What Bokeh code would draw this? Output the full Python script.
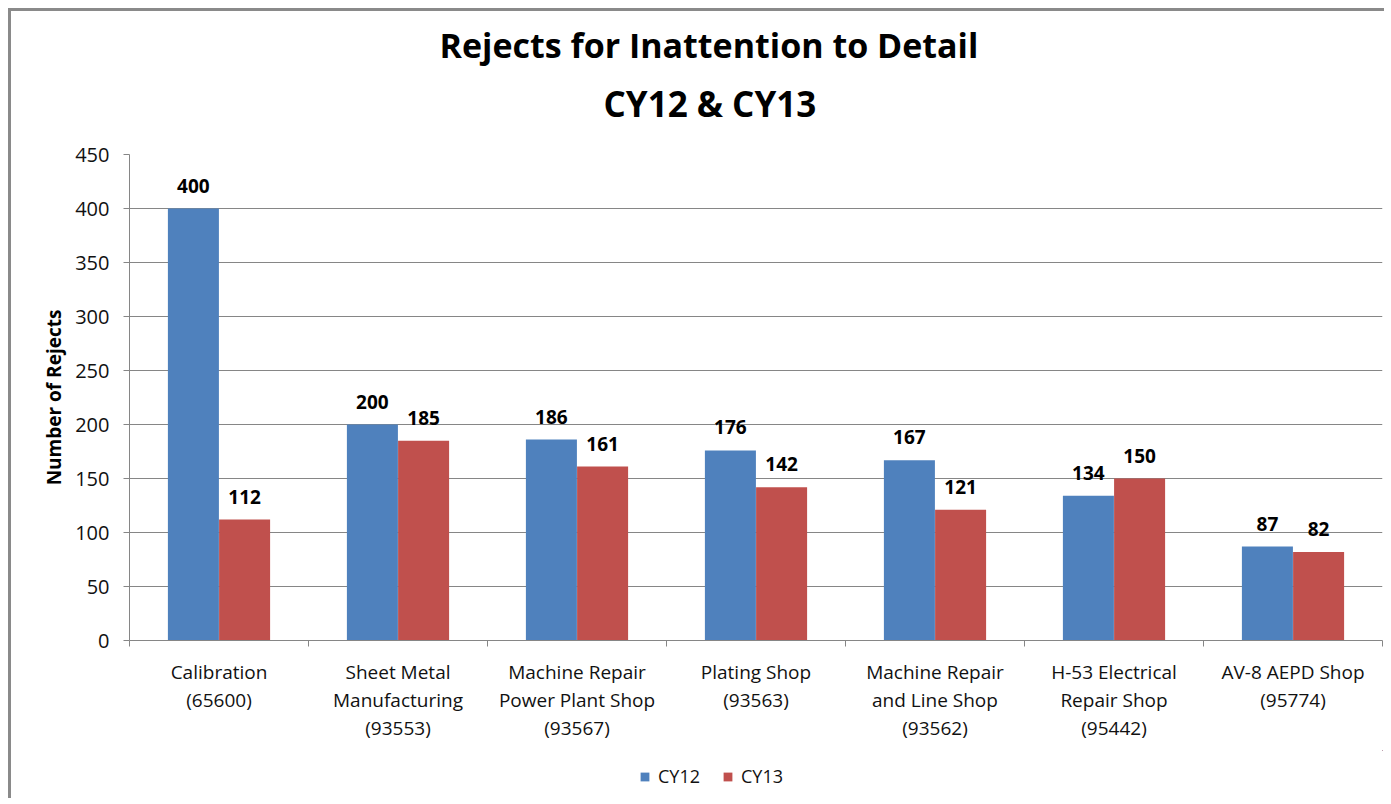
from bokeh.plotting import figure
from bokeh.models import (ColumnDataSource, FixedTicker, Range1d, Title, Legend, LegendItem,
                          LinearAxis)
from bokeh.layouts import column
from bokeh.embed import file_html
from bokeh.resources import INLINE
from bokeh.core.properties import value

categories = [
    "Calibration\n(65600)",
    "Sheet Metal\nManufacturing\n(93553)",
    "Machine Repair\nPower Plant Shop\n(93567)",
    "Plating Shop\n(93563)",
    "Machine Repair\nand Line Shop\n(93562)",
    "H-53 Electrical\nRepair Shop\n(95442)",
    "AV-8 AEPD Shop\n(95774)",
]
cy12 = [400, 200, 186, 176, 167, 134, 87]
cy13 = [112, 185, 161, 142, 121, 150, 82]
series_names = ["CY12", "CY13"]
y_ticks = [0, 50, 100, 150, 200, 250, 300, 350, 400, 450]
title_lines = ["Rejects for Inattention to Detail", "CY12 & CY13"]

FONT = "Open Sans"
BLUE = "#4F81BD"
RED = "#C0504D"
GRID = "#868686"
TXT = "#111111"

n = len(categories)
centers = [i + 0.5 for i in range(n)]
bounds = list(range(n + 1))
off = 0.143
bw = 0.285

src = ColumnDataSource(dict(
    x12=[c - off for c in centers],
    x13=[c + off for c in centers],
    cy12=cy12,
    cy13=cy13,
    l12=[str(v) for v in cy12],
    l13=[str(v) for v in cy13],
))

p = figure(width=1373, height=739, output_backend="svg", toolbar_location=None,
           x_range=Range1d(0, n), y_range=Range1d(0, 450),
           min_border_left=118, min_border_right=2, min_border_top=143, min_border_bottom=110)
p.outline_line_color = None

r12 = p.vbar(x="x12", top="cy12", width=bw, source=src, fill_color=BLUE, line_color=None)
r13 = p.vbar(x="x13", top="cy13", width=bw, source=src, fill_color=RED, line_color=None)

for xcol, ycol, lcol in [("x12", "cy12", "l12"), ("x13", "cy13", "l13")]:
    p.text(x=xcol, y=ycol, text=lcol, source=src, text_align="center", text_baseline="bottom",
           y_offset=-16, text_font=value(FONT), text_font_style="bold", text_font_size="19px",
           text_color="black")

# x axis: one axis per label line
lines = [c.split("\n") for c in categories]
line_sets = [[ls[k] if k < len(ls) else "" for ls in lines] for k in range(3)]

xa = p.xaxis[0]
xa.ticker = FixedTicker(ticks=centers, minor_ticks=bounds)
xa.major_label_overrides = {c: lab for c, lab in zip(centers, line_sets[0])}
xa.major_tick_out = 0
xa.major_tick_in = 0
xa.minor_tick_out = 6
xa.minor_tick_in = 0
xa.minor_tick_line_color = GRID
xa.axis_line_color = GRID
xa.major_label_text_font = FONT
xa.major_label_text_font_size = "19px"
xa.major_label_text_color = TXT
xa.major_label_standoff = 12

for k in (1, 2):
    ax = LinearAxis(ticker=FixedTicker(ticks=centers, minor_ticks=[]),
                    major_label_overrides={c: (lab if lab else " ") for c, lab in zip(centers, line_sets[k])},
                    axis_line_color=None, major_tick_line_color=None, minor_tick_line_color=None,
                    major_tick_out=0, major_tick_in=0, minor_tick_out=0, minor_tick_in=0,
                    major_label_text_font=FONT, major_label_text_font_size="19px",
                    major_label_text_color=TXT, major_label_standoff=-1)
    p.add_layout(ax, "below")

ya = p.yaxis[0]
ya.ticker = FixedTicker(ticks=y_ticks, minor_ticks=[])
ya.major_tick_out = 6
ya.major_tick_in = 0
ya.major_tick_line_color = GRID
ya.axis_line_color = GRID
ya.major_label_text_font = FONT
ya.major_label_text_font_size = "20px"
ya.major_label_text_color = TXT
ya.major_label_standoff = 14
ya.axis_label = "Number of Rejects"
ya.axis_label_text_font = FONT
ya.axis_label_text_font_style = "bold"
ya.axis_label_text_font_size = "19px"
ya.axis_label_text_color = "black"
ya.axis_label_standoff = 5

p.xgrid.grid_line_color = None
p.ygrid.grid_line_color = GRID
p.ygrid.grid_line_width = 1

# titles (first added is nearest the frame)
p.title = None
p.add_layout(Title(text=" ", text_font_size="8px", text_font=FONT), "above")
t2 = Title(text=title_lines[1], align="left", offset=474, text_font=FONT,
           text_font_size="35px", text_font_style="bold", text_color="black")
t1 = Title(text=title_lines[0], align="left", offset=310,
           text_font=FONT, text_font_size="34px", text_font_style="bold", text_color="black")
p.add_layout(t2, "above")
p.add_layout(t1, "above")

# legend strip below the chart (its renderers lie outside its visible range)
p2 = figure(width=1373, height=48, output_backend="svg", toolbar_location=None,
            x_axis_type=None, y_axis_type=None, x_range=Range1d(-20, -19), y_range=Range1d(-20, -19),
            min_border=0)
p2.outline_line_color = None
p2.xgrid.grid_line_color = None
p2.ygrid.grid_line_color = None
d12 = p2.vbar(x="x12", top="cy12", width=bw, source=src, fill_color=BLUE, line_color=None)
d13 = p2.vbar(x="x13", top="cy13", width=bw, source=src, fill_color=RED, line_color=None)
legend = Legend(items=[LegendItem(label=series_names[0], renderers=[d12]),
                       LegendItem(label=series_names[1], renderers=[d13])],
                orientation="horizontal", location=(510, 10),
                label_text_font=FONT, label_text_font_size="18px", label_text_color=TXT,
                glyph_width=11, glyph_height=11, spacing=22, label_standoff=8,
                border_line_color=None, background_fill_alpha=0, margin=0, padding=2)
p2.add_layout(legend, "center")

layout = column(p, p2, styles={"border-left": "3px solid #8a8a8a",
                               "border-top": "3px solid #8a8a8a",
                               "margin-left": "8px", "margin-top": "8px"})

open("out.html", "w").write(file_html(layout, INLINE))
